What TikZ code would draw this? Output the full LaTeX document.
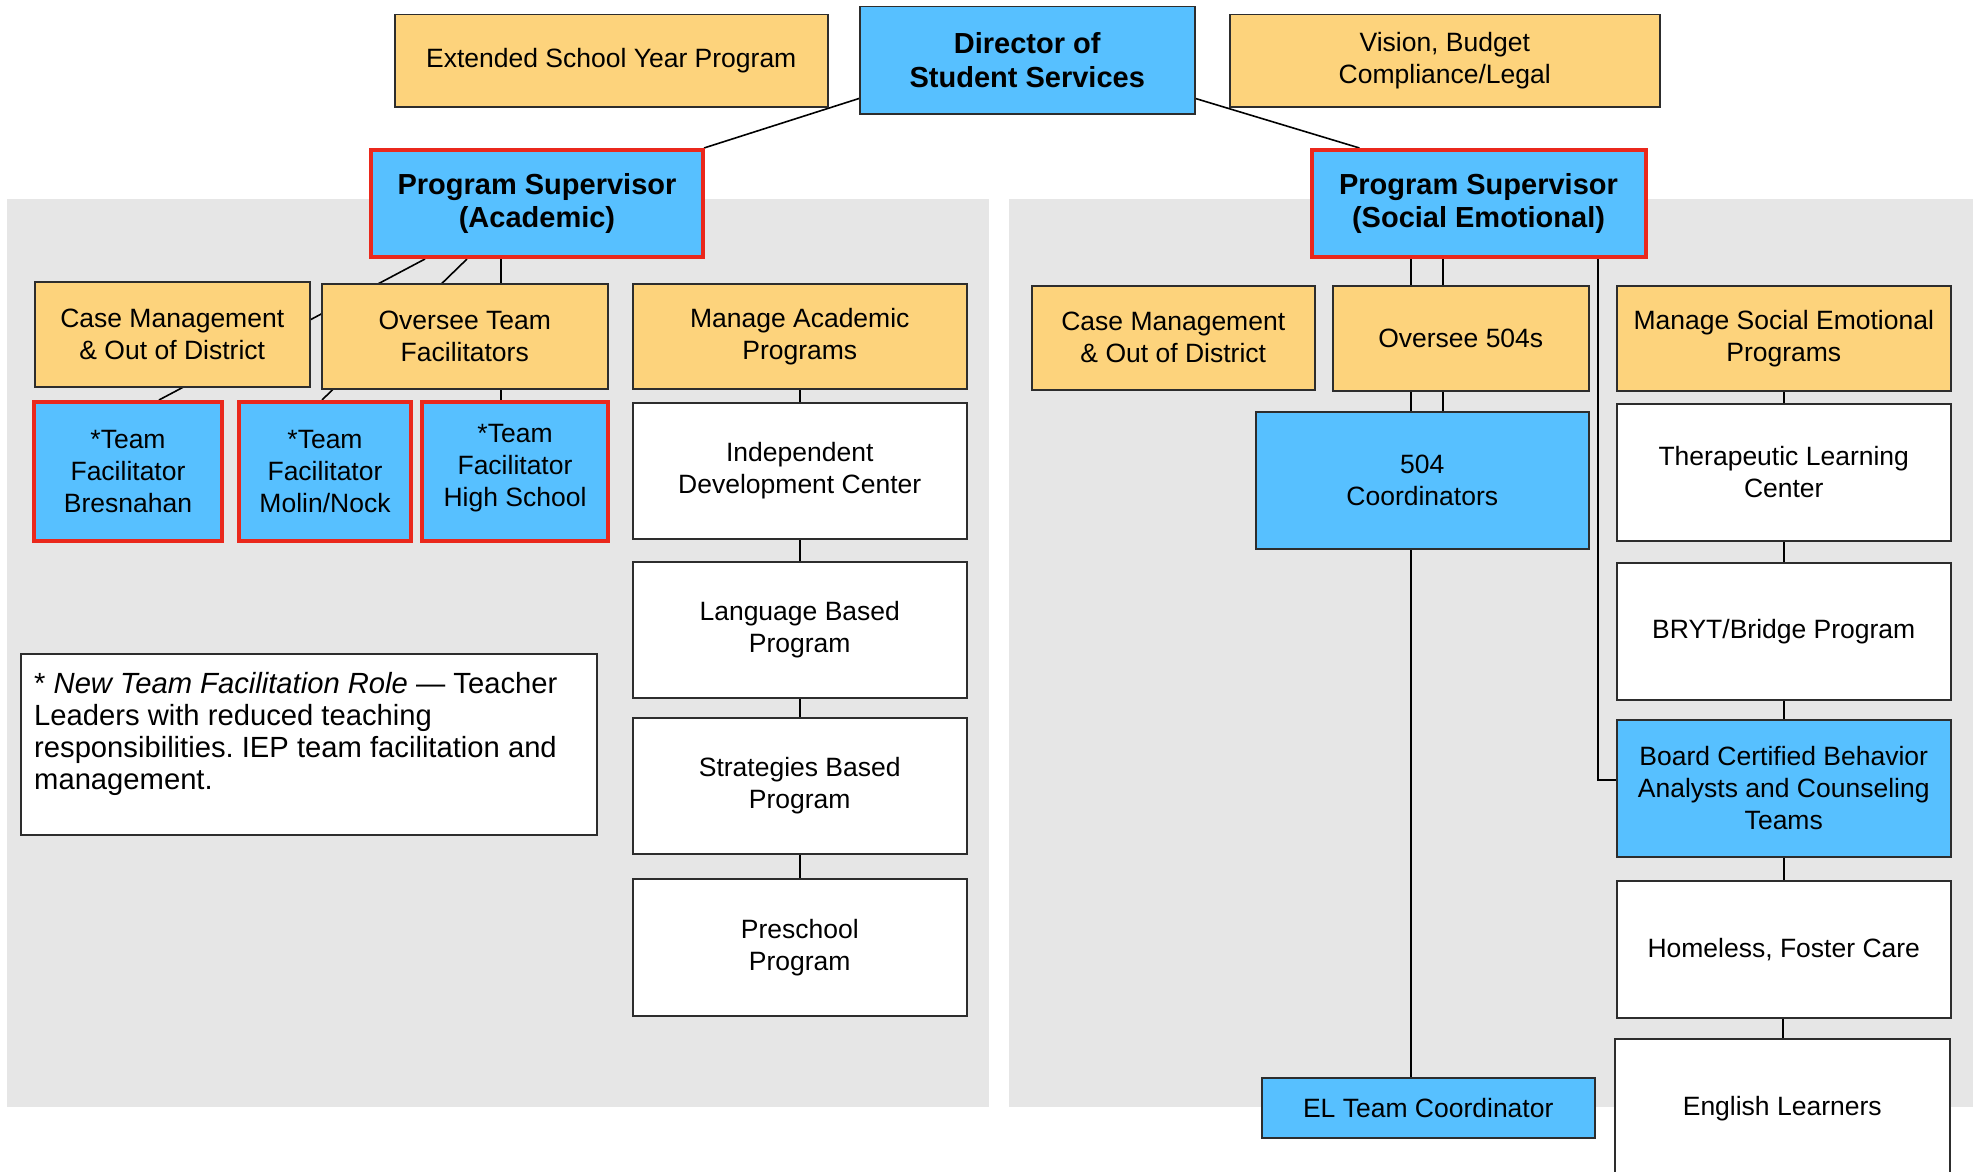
\documentclass[tikz,border=0pt]{standalone}
\usepackage{fontspec}
\setmainfont{Liberation Sans}
\frenchspacing
\definecolor{ylw}{RGB}{253,211,124}
\definecolor{blu}{RGB}{87,192,255}
\definecolor{redb}{RGB}{234,40,28}
\definecolor{pnl}{RGB}{230,230,230}
\definecolor{edge}{RGB}{45,45,45}
\pgfdeclarelayer{panels}
\pgfdeclarelayer{links}
\pgfsetlayers{panels,links,main}
\begin{document}
\begin{tikzpicture}[x=1pt,y=-1pt,
 box/.style={draw=edge, line width=1.5pt, anchor=north west, inner sep=0pt, align=center, font=\fontsize{26.5}{32}\selectfont},
 yel/.style={box, fill=ylw},
 wht/.style={box, fill=white},
 bluebox/.style={box, fill=blu},
 lead/.style={box, fill=blu, draw=redb, line width=4pt},
 title/.style={font=\bfseries\fontsize{29}{33.5}\selectfont},
 link/.style={draw=black, line width=1.6pt},
 wh/.style 2 args={minimum width=#1pt, minimum height=#2pt}
]
\useasboundingbox (0,0) rectangle (1973,1172);

% top level
\node[bluebox, title, wh={335}{107}] (dir) at (859,6) {Director of\\Student Services};
\node[yel, wh={433}{92}] (esy) at (394,14) {Extended School Year Program};
\node[yel, wh={430}{92}] (vis) at (1229,14) {Vision, Budget\\Compliance/Legal};
\node[lead, title, wh={332}{107}] (psa) at (369,148) {Program Supervisor\\(Academic)};
\node[lead, title, wh={334}{107}] (pss) at (1309.5,148) {Program Supervisor\\(Social Emotional)};

% academic side
\node[yel, wh={275}{105}] (cma) at (34,281) {Case Management\\\& Out of District};
\node[yel, wh={286}{105}] (ota) at (321,283) {Oversee Team\\Facilitators};
\node[yel, wh={334}{105}] (mac) at (632,283) {Manage Academic\\Programs};
\node[lead, wh={188}{139}] (bres) at (32,400) {*Team\\Facilitator\\Bresnahan};
\node[lead, wh={172}{139}] (moli) at (237,400) {*Team\\Facilitator\\Molin/Nock};
\node[lead, wh={186}{139}] (hs) at (420,400) {*Team\\Facilitator\\High School\\[-20pt]\mbox{}};
\node[wht, wh={334}{136}] (idc) at (632,402) {Independent\\Development Center};
\node[wht, wh={334}{136}] (lbp) at (632,561) {Language Based\\Program};
\node[wht, wh={334}{136}] (sbp) at (632,717) {Strategies Based\\Program};
\node[wht, wh={334}{137}] (psp) at (632,878) {Preschool\\Program};
\node[wht, wh={576}{181}] (note) at (20,653) {};
\node[anchor=north west, align=left, inner sep=0pt, font=\fontsize{29.2}{32.2}\selectfont] (notetext) at (34,672)
 {* \textit{New Team Facilitation Role} — Teacher\\Leaders with reduced teaching\\responsibilities. IEP team facilitation and\\management.};

% social emotional side
\node[yel, wh={283}{104}] (cms) at (1031,285) {Case Management\\\& Out of District};
\node[yel, wh={256}{105}] (o504) at (1332,285) {Oversee 504s};
\node[yel, wh={334}{105}] (msp) at (1616,285) {Manage Social Emotional\\Programs};
\node[bluebox, wh={333}{137}] (c504) at (1255,411) {504\\Coordinators};
\node[wht, wh={334}{137}] (tlc) at (1616,403) {Therapeutic Learning\\Center};
\node[wht, wh={334}{137}] (bryt) at (1616,562) {BRYT/Bridge Program};
\node[bluebox, wh={334}{137}] (bcba) at (1616,719) {Board Certified Behavior\\Analysts and Counseling\\Teams};
\node[wht, wh={334}{137}] (hfc) at (1616,880) {Homeless, Foster Care};
\node[bluebox, wh={333}{60}] (el) at (1261,1077) {EL Team Coordinator};
\node[wht, wh={335}{140}] (ell) at (1614,1038) {English Learners};

\begin{pgfonlayer}{panels}
 \fill[pnl] (7,199) rectangle (989,1107);
 \fill[pnl] (1009,199) rectangle (1973,1107);
\end{pgfonlayer}

\begin{pgfonlayer}{links}
 \draw[link] ([yshift=16pt]dir.south west) -- ([xshift=-1pt]psa.north east);
 \draw[link] ([yshift=16pt]dir.south east) -- ([xshift=50pt]pss.north west);
 \draw[link] ([xshift=56pt]psa.south west) -- ([xshift=127pt]bres.north west);
 \draw[link] ([xshift=98pt]psa.south west) -- ([xshift=85pt]moli.north west);
 \draw[link] ([xshift=132pt]psa.south west) -- ([xshift=132pt]psa.south west |- hs.north);
 \draw[link] (mac.south) -- (idc.north);
 \draw[link] (idc.south) -- (lbp.north);
 \draw[link] (lbp.south) -- (sbp.north);
 \draw[link] (sbp.south) -- (psp.north);
 \draw[link] ([xshift=101.5pt]pss.south west) -- ([xshift=101.5pt]pss.south west |- el.north);
 \draw[link] ([xshift=133.5pt]pss.south west) -- ([xshift=133.5pt]pss.south west |- c504.north);
 \draw[link] ([xshift=288.5pt]pss.south west) |- ([yshift=8pt]bcba.west);
 \draw[link] (msp.south) -- (tlc.north);
 \draw[link] (tlc.south) -- (bryt.north);
 \draw[link] (bryt.south) -- (bcba.north);
 \draw[link] (bcba.south) -- (hfc.north);
 \draw[link] ([xshift=-1pt]hfc.south) -- ([xshift=-1pt]hfc.south |- ell.north);
\end{pgfonlayer}
\end{tikzpicture}
\end{document}
